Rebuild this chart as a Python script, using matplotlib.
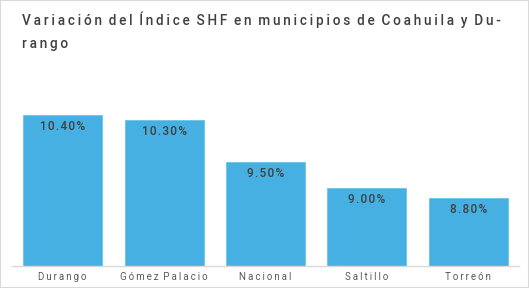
import matplotlib.pyplot as plt
from matplotlib.patches import Rectangle

# Data
municipios = ["Durango", "Gómez Palacio", "Nacional", "Saltillo", "Torreón"]
variacion = [10.4, 10.3, 9.5, 9.0, 8.8]
etiquetas = ["10.40%", "10.30%", "9.50%", "9.00%", "8.80%"]

titulo_1 = "Variación del Índice SHF en municipios de Coahuila y Du-"
titulo_2 = "rango"


def spaced(s, gap="\u2009", word=" "):
    # letter-spacing imitation
    return word.join(gap.join(w) for w in s.split(" "))


bar_color = "#45B0E1"
fam = ["Roboto", "DejaVu Sans"]

fig = plt.figure(figsize=(5.29, 2.88), dpi=100)
ax = fig.add_axes([12 / 529, 1 - 266 / 288, 507 / 529, (266 - 84) / 288])

x = range(len(municipios))
ax.bar(x, variacion, width=0.78, color=bar_color, edgecolor="#6cc2ea", linewidth=0.6)
ax.set_ylim(7.5, 11.0)
ax.set_xlim(-0.5, len(municipios) - 0.5)

for i, (v, lab) in enumerate(zip(variacion, etiquetas)):
    ax.annotate(spaced(lab, "\u200a"), (i, v), xytext=(0, -8), textcoords="offset points",
                ha="center", va="center", fontsize=8.5, color="#404040",
                family=fam, fontweight="medium")

ax.set_xticks(list(x))
ax.set_xticklabels([spaced(m, word="  ") for m in municipios], family=fam, fontsize=7,
                   color="#595959")
ax.tick_params(axis="x", length=0, pad=4)
ax.set_yticks([])
for s in ["top", "right", "left"]:
    ax.spines[s].set_visible(False)
ax.spines["bottom"].set_color("#d9d9d9")
ax.spines["bottom"].set_linewidth(1)

fig.text(22 / 529, 1 - 20 / 288, spaced(titulo_1, word="  "), family=fam, fontsize=9.8,
         color="#404040", fontweight="medium", va="center", ha="left")
fig.text(22 / 529, 1 - 44 / 288, spaced(titulo_2, word="  "), family=fam, fontsize=9.8,
         color="#404040", fontweight="medium", va="center", ha="left")

# light frame around the image
fig.patches.append(Rectangle((0, 0), 1, 1, transform=fig.transFigure,
                             fill=False, edgecolor="#d9d9d9", linewidth=1.5))

fig.savefig("out.png", dpi=100, facecolor="white")
